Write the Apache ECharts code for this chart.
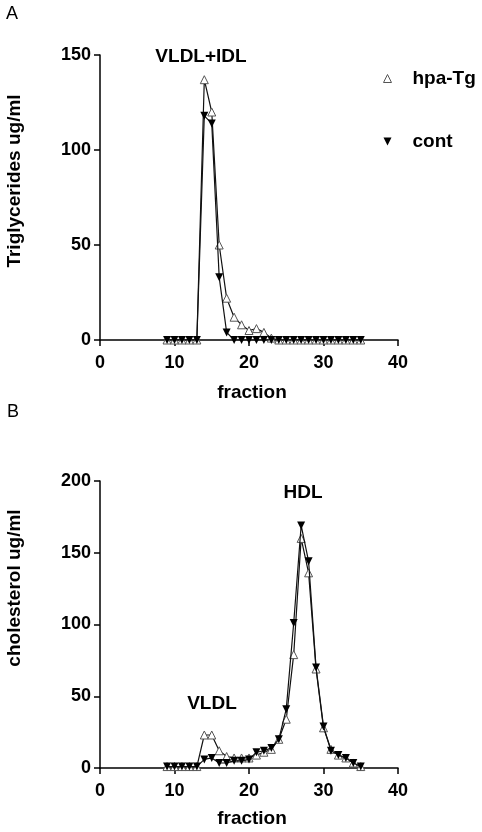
<!DOCTYPE html>
<html>
<head>
<meta charset="utf-8">
<script src="https://cdn.jsdelivr.net/npm/echarts@6/dist/echarts.min.js"></script>
<style>
    html, body { margin: 0; padding: 0; background: #fff; }
    #chart { width: 482px; height: 832px; }
</style>
</head>
<body>
<div id="chart"></div>
<script>
// fraction numbers (x)
var fractions = [9, 10, 11, 12, 13, 14, 15, 16, 17, 18, 19, 20, 21, 22, 23, 24, 25, 26, 27, 28, 29, 30, 31, 32, 33, 34, 35];
// A: triglycerides ug/ml
var tgHpa  = [0, 0, 0, 0, 0, 137, 120, 50, 22, 12, 8, 5, 6, 4, 1, 0, 0, 0, 0, 0, 0, 0, 0, 0, 0, 0, 0];
var tgCont = [0, 0, 0, 0, 0, 118, 114, 33, 4, 0, 0, 0, 0, 0, 0, 0, 0, 0, 0, 0, 0, 0, 0, 0, 0, 0, 0];
// B: cholesterol ug/ml
var chHpa  = [1, 1, 1, 1, 1, 23, 23, 12, 8, 7, 7, 7, 9, 11, 13, 20, 34, 79, 160, 136, 69, 28, 13, 9, 7, 3.5, 1];
var chCont = [1, 1, 1, 1, 1, 6, 7, 3.5, 3.5, 5, 5, 6, 11, 12, 14, 20, 41, 101, 169, 144, 70, 29, 12, 9, 7, 3.5, 1];
// ticks
var xTicks = [0, 10, 20, 30, 40];
var yTicksA = [0, 50, 100, 150];
var yTicksB = [0, 50, 100, 150, 200];

var FONT = "'Liberation Sans', Arial, sans-serif";

function pairs(vals){
    var out = [];
    for (var i = 0; i < fractions.length; i++) out.push([fractions[i], vals[i]]);
    return out;
}

function xAx(idx){
    return {
        type: 'value', gridIndex: idx,
        min: xTicks[0], max: xTicks[xTicks.length - 1], interval: 10,
        splitLine: {show: false},
        axisLine: {onZero: false, lineStyle: {color: '#000', width: 1.5}},
        axisTick: {length: 6, lineStyle: {color: '#000', width: 1.5}},
        axisLabel: {color: '#000', fontWeight: 'bold', fontSize: 18, fontFamily: FONT, margin: 14}
    };
}
function yAx(idx, ticks){
    return {
        type: 'value', gridIndex: idx,
        min: 0, max: ticks[ticks.length - 1], interval: 50,
        splitLine: {show: false},
        axisLine: {show: true, lineStyle: {color: '#000', width: 1.5}},
        axisTick: {show: true, length: 6, lineStyle: {color: '#000', width: 1.5}},
        axisLabel: {color: '#000', fontWeight: 'bold', fontSize: 18, fontFamily: FONT, margin: 9}
    };
}
function hpaSeries(idx, vals){
    return {
        name: 'hpa-Tg', type: 'line', xAxisIndex: idx, yAxisIndex: idx,
        data: pairs(vals),
        symbol: 'triangle', symbolSize: 8,
        lineStyle: {color: '#111', width: 1.2},
        itemStyle: {color: '#fff', borderColor: '#555', borderWidth: 1},
        z: 2
    };
}
function contSeries(idx, vals){
    return {
        name: 'cont', type: 'line', xAxisIndex: idx, yAxisIndex: idx,
        data: pairs(vals),
        symbol: 'triangle', symbolRotate: 180, symbolSize: 8,
        lineStyle: {color: '#111', width: 1.2},
        itemStyle: {color: '#000'},
        z: 3
    };
}
function label(text, x, y, size, weight, rot){
    return {
        type: 'text', x: x, y: y, rotation: rot || 0,
        style: {text: text, fill: '#000', font: (weight || 'bold') + ' ' + size + 'px ' + FONT,
                textAlign: 'center', textVerticalAlign: 'middle'}
    };
}

var chart = echarts.init(document.getElementById('chart'));
var option = {
    animation: false,
    backgroundColor: '#fff',
    grid: [
        {left: 100, right: 84, top: 55, height: 285},
        {left: 100, right: 84, top: 481, height: 287}
    ],
    xAxis: [xAx(0), xAx(1)],
    yAxis: [yAx(0, yTicksA), yAx(1, yTicksB)],
    legend: {
        orient: 'vertical', left: 378, top: 64, itemGap: 44,
        itemWidth: 8, itemHeight: 8,
        textStyle: {color: '#000', fontWeight: 'bold', fontSize: 19, fontFamily: FONT, padding: [0, 0, 0, 16]},
        data: [
            {name: 'hpa-Tg', icon: 'triangle', itemStyle: {color: '#fff', borderColor: '#555', borderWidth: 1}},
            {name: 'cont', icon: 'path://M0,0 L10,0 L5,10 Z', itemStyle: {color: '#000'}}
        ]
    },
    graphic: [
        label('A', 12, 14, 18, 'normal'),
        label('B', 13, 412, 18, 'normal'),
        label('Triglycerides ug/ml', 15, 181, 19, 'bold', Math.PI / 2),
        label('cholesterol ug/ml', 15, 588, 19, 'bold', Math.PI / 2),
        label('fraction', 252, 393, 19),
        label('fraction', 252, 819, 19),
        label('VLDL+IDL', 201, 57, 19),
        label('HDL', 303, 493, 19),
        label('VLDL', 212, 704, 19)
    ],
    series: [
        hpaSeries(0, tgHpa), contSeries(0, tgCont),
        hpaSeries(1, chHpa), contSeries(1, chCont)
    ]
};
chart.setOption(option);
</script>
</body>
</html>
